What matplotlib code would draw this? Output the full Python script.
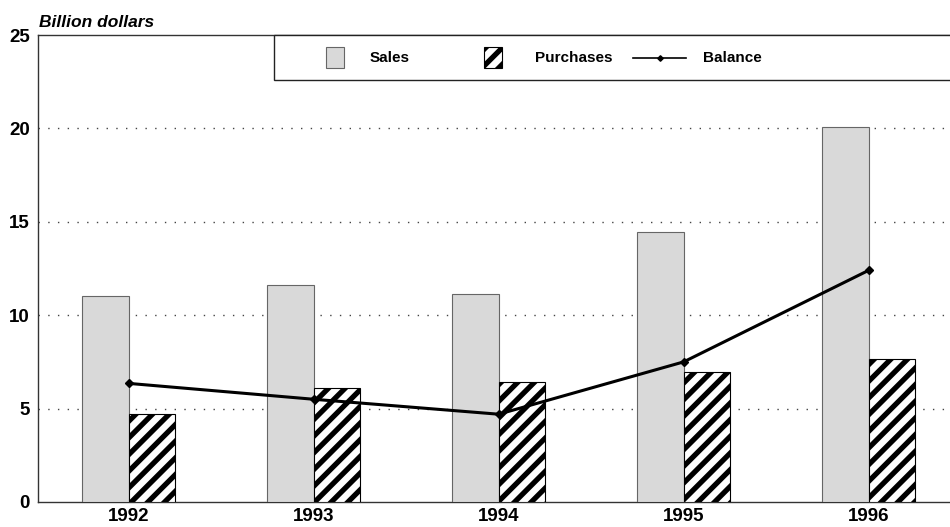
import matplotlib
matplotlib.use("Agg")
import matplotlib.pyplot as plt
import numpy as np
from matplotlib.patches import Rectangle
from matplotlib.lines import Line2D

# Values (billion dollars)
years = ["1992", "1993", "1994", "1995", "1996"]
sales = [11.05, 11.6, 11.15, 14.45, 20.05]
purchases = [4.7, 6.1, 6.45, 6.95, 7.65]
balance = [s - p for s, p in zip(sales, purchases)]
yticks = [0, 5, 10, 15, 20, 25]

SANS = "Liberation Sans"
SALES_FC = "#d9d9d9"
SALES_EC = "#666666"

plt.rcParams["hatch.linewidth"] = 3.8
plt.rcParams["font.family"] = SANS

W, H = 950, 527
fig = plt.figure(figsize=(W / 100, H / 100), dpi=100)
fig.patch.set_facecolor("white")


def fx(px):
    return px / W


def fy(py):
    return 1 - py / H


ax = fig.add_axes([fx(38), fy(502), fx(950) - fx(38), fy(35) - fy(502)])

x = np.arange(len(years))
bw = 0.25
ax.bar(x - bw / 2, sales, bw, color=SALES_FC, edgecolor=SALES_EC, linewidth=0.8, zorder=3)
ax.bar(x + bw / 2, purchases, bw, color="white", edgecolor="black", linewidth=0.8,
       hatch="//", zorder=3)
ax.plot(x, balance, color="black", lw=2.2, marker="D", markersize=4.5, zorder=5)

ax.set_xlim(-0.49, 4.44)
ax.set_ylim(0, 25)
ax.set_yticks(yticks)
ax.set_yticklabels([str(v) for v in yticks], fontsize=13.5, fontweight="bold")
ax.set_xticks(x)
ax.set_xticklabels(years, fontsize=13.5, fontweight="bold")
ax.tick_params(axis="both", length=0)
ax.tick_params(axis="y", pad=6)
ax.tick_params(axis="x", pad=4)

for v in yticks[1:-1]:
    ax.axhline(v, color="#444444", lw=1.0, ls=(0, (1, 6)), zorder=1)

for side in ("left", "bottom", "top"):
    ax.spines[side].set_color("#333333")
    ax.spines[side].set_linewidth(1.0)
ax.spines["right"].set_visible(False)

fig.text(fx(39), fy(27), "Billion dollars", fontsize=12.5, fontweight="bold",
         style="italic", ha="left", va="baseline")

# legend strip along the top edge
fig.patches.append(Rectangle((fx(274), fy(80)), fx(951) - fx(274), fy(35) - fy(80),
                             transform=fig.transFigure, facecolor="white",
                             edgecolor="#222222", lw=1.0, zorder=6))
ly = 57.5
fig.patches.append(Rectangle((fx(326), fy(ly + 10)), fx(18), fy(0) - fy(20),
                             transform=fig.transFigure, facecolor=SALES_FC,
                             edgecolor=SALES_EC, lw=0.8, zorder=7))
fig.patches.append(Rectangle((fx(484), fy(ly + 10)), fx(18), fy(0) - fy(20),
                             transform=fig.transFigure, facecolor="white",
                             edgecolor="black", lw=0.8, hatch="//", zorder=7))
fig.lines.append(Line2D([fx(633), fx(686)], [fy(ly), fy(ly)], transform=fig.transFigure,
                        color="black", lw=1.2, zorder=7))
fig.lines.append(Line2D([fx(660)], [fy(ly)], transform=fig.transFigure,
                        color="black", marker="D", markersize=2.8, zorder=8))
for px, lab in [(370, "Sales"), (535, "Purchases"), (703, "Balance")]:
    fig.text(fx(px), fy(ly), lab, fontsize=11, fontweight="bold",
             ha="left", va="center", zorder=8)

fig.savefig("out.png", dpi=100, facecolor="white")
